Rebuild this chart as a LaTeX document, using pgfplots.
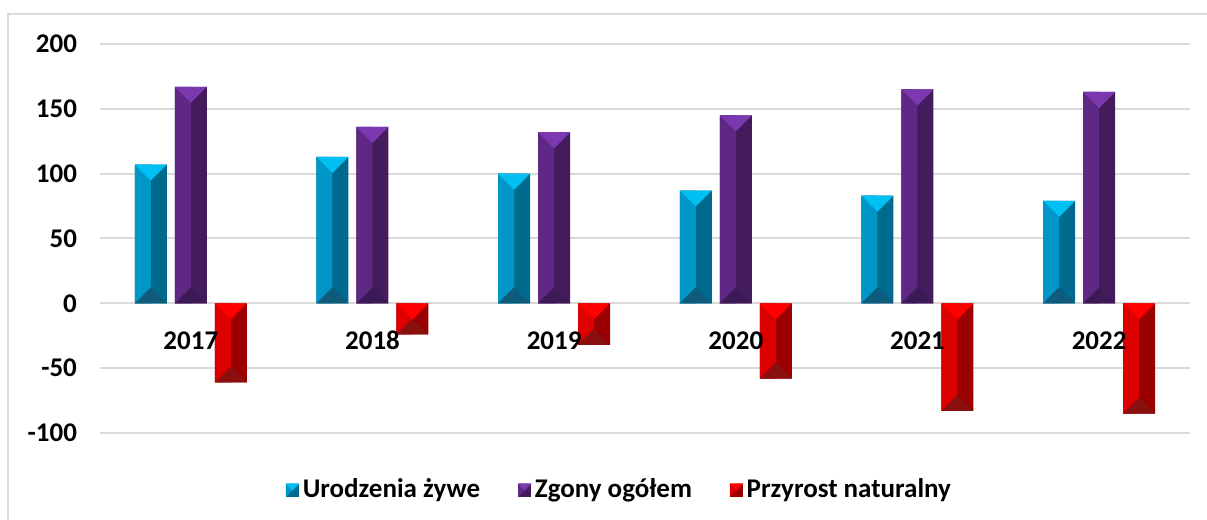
\documentclass[border=0pt]{standalone}
\usepackage{fontspec}
\setmainfont{Carlito}
\usepackage{pgfplots}
\pgfplotsset{compat=1.18}
\usepackage{pgfplotstable}

\definecolor{gridgray}{HTML}{D9D9D9}
\definecolor{bluL}{HTML}{0096C8}
\definecolor{bluD}{HTML}{006A8E}
\definecolor{bluT}{HTML}{00BFF3}
\definecolor{bluB}{HTML}{0E5B7C}
\definecolor{purL}{HTML}{5E2884}
\definecolor{purD}{HTML}{441C5E}
\definecolor{purT}{HTML}{7C38AE}
\definecolor{purB}{HTML}{3C1A55}
\definecolor{redL}{HTML}{DD0000}
\definecolor{redD}{HTML}{9A0000}
\definecolor{redT}{HTML}{FF0000}
\definecolor{redB}{HTML}{8A1010}

\pgfdeclareplotmark{capdown}{%
  \pgfpathmoveto{\pgfqpoint{-8pt}{0pt}}%
  \pgfpathlineto{\pgfqpoint{8pt}{0pt}}%
  \pgfpathlineto{\pgfqpoint{0pt}{-8pt}}%
  \pgfpathclose\pgfusepathqfill}
\pgfdeclareplotmark{capup}{%
  \pgfpathmoveto{\pgfqpoint{-8pt}{0pt}}%
  \pgfpathlineto{\pgfqpoint{8pt}{0pt}}%
  \pgfpathlineto{\pgfqpoint{0pt}{8pt}}%
  \pgfpathclose\pgfusepathqfill}

\pgfplotstableread{
x urodzenia zgony przyrost
0 107 167 -61
1 113 136 -24
2 100 132 -32
3 87 145 -58
4 83 165 -83
5 79 163 -85
}\data

\pgfplotstableread{
x zero lab
0 0 2017
1 0 2018
2 0 2019
3 0 2020
4 0 2021
5 0 2022
}\zeros

\begin{document}
\begin{tikzpicture}[x=1pt,y=1pt]
\useasboundingbox (0,0) rectangle (603.5,260);
\draw[color=gridgray, line width=1pt] (4,-20) |- (640,253);
\begin{axis}[
  at={(50pt,43.5pt)}, anchor=south west,
  scale only axis, width=545pt, height=194.5pt,
  xmin=-0.5, xmax=5.5, ymin=-100, ymax=200,
  axis line style={draw=none},
  major tick length=0pt,
  xtick=\empty,
  ytick={-100,-50,0,50,100,150,200},
  ymajorgrids, grid style={gridgray, line width=1pt},
  tick label style={font=\bfseries\fontsize{13.5}{16}\selectfont},
  /pgf/number format/assume math mode=true,
  yticklabel style={xshift=-8pt},
  clip=false,
  legend style={at={(axis description cs:0.4775,-0.1465)}, anchor=center, draw=none,
    font=\bfseries\fontsize{13.5}{16}\selectfont,
    /tikz/every even column/.append style={column sep=17pt},
    /tikz/every odd column/.append style={column sep=0pt}},
  legend columns=3,
  legend cell align=left,
]
% Urodzenia zywe
\addplot[ybar, bar width=16pt, bar shift=-20pt, fill=bluD, draw=none, forget plot] table[x=x,y=urodzenia]{\data};
\addplot[ybar, bar width=8pt, bar shift=-24pt, fill=bluL, draw=none, forget plot] table[x=x,y=urodzenia]{\data};
\addplot[only marks, mark=capdown, color=bluT, fill=bluT, mark options={xshift=-20pt}, forget plot] table[x=x,y=urodzenia]{\data};
\addplot[only marks, mark=capup, color=bluB, fill=bluB, mark options={xshift=-20pt}, forget plot] table[x=x,y=zero]{\zeros};
% Zgony ogolem
\addplot[ybar, bar width=16pt, bar shift=0pt, fill=purD, draw=none, forget plot] table[x=x,y=zgony]{\data};
\addplot[ybar, bar width=8pt, bar shift=-4pt, fill=purL, draw=none, forget plot] table[x=x,y=zgony]{\data};
\addplot[only marks, mark=capdown, color=purT, fill=purT, forget plot] table[x=x,y=zgony]{\data};
\addplot[only marks, mark=capup, color=purB, fill=purB, forget plot] table[x=x,y=zero]{\zeros};
% Przyrost naturalny
\addplot[ybar, bar width=16pt, bar shift=20pt, fill=redD, draw=none, forget plot] table[x=x,y=przyrost]{\data};
\addplot[ybar, bar width=8pt, bar shift=16pt, fill=redL, draw=none, forget plot] table[x=x,y=przyrost]{\data};
\addplot[only marks, mark=capup, color=redB, fill=redB, mark options={xshift=20pt}, forget plot] table[x=x,y=przyrost]{\data};
\addplot[only marks, mark=capdown, color=redT, fill=redT, mark options={xshift=20pt}, forget plot] table[x=x,y=zero]{\zeros};
% category labels on top of the bars
\addplot[draw=none, mark=none, forget plot, nodes near coords, point meta=explicit symbolic,
  every node near coord/.style={anchor=center, yshift=-18.5pt, text=black,
    font=\bfseries\fontsize{13.5}{16}\selectfont}]
  table[x=x,y=zero,meta=lab]{\zeros};

\addlegendimage{legend image code/.code={\fill[bluD] (0pt,-3pt) rectangle (6pt,3pt); \fill[bluL] (0pt,-3pt) -- (0pt,3pt) -- (6pt,3pt) -- (3pt,0pt) -- cycle; \fill[bluT] (0pt,3pt) -- (6pt,3pt) -- (3pt,0pt) -- cycle;}}
\addlegendentry{Urodzenia żywe}
\addlegendimage{legend image code/.code={\fill[purD] (0pt,-3pt) rectangle (6pt,3pt); \fill[purL] (0pt,-3pt) -- (0pt,3pt) -- (6pt,3pt) -- (3pt,0pt) -- cycle; \fill[purT] (0pt,3pt) -- (6pt,3pt) -- (3pt,0pt) -- cycle;}}
\addlegendentry{Zgony ogółem}
\addlegendimage{legend image code/.code={\fill[redD] (0pt,-3pt) rectangle (6pt,3pt); \fill[redL] (0pt,-3pt) -- (0pt,3pt) -- (6pt,3pt) -- (3pt,0pt) -- cycle; \fill[redT] (0pt,3pt) -- (6pt,3pt) -- (3pt,0pt) -- cycle;}}
\addlegendentry{Przyrost naturalny}
\end{axis}
\end{tikzpicture}
\end{document}
